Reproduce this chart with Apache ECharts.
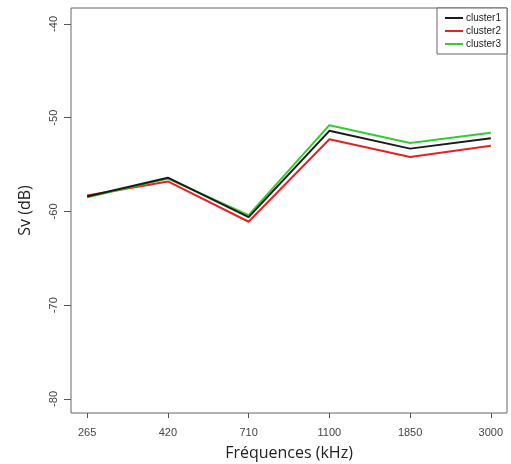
<!DOCTYPE html>
<html><head><meta charset="utf-8">
<script src="https://cdn.jsdelivr.net/npm/echarts@6/dist/echarts.min.js"></script>
<style>html,body{margin:0;padding:0;background:#fff}#c{width:511px;height:464px}</style>
</head><body><div id="c"></div>
<script>
const categories = ['265','420','710','1100','1850','3000'];
const cluster1 = [-58.4, -56.4, -60.6, -51.4, -53.3, -52.2];
const cluster2 = [-58.3, -56.8, -61.1, -52.3, -54.2, -53.0];
const cluster3 = [-58.5, -56.5, -60.4, -50.8, -52.7, -51.6];
const yTicks = [-80, -70, -60, -50, -40];
const xPos = categories.map((c, i) => i + 1);

const chart = echarts.init(document.getElementById('c'));
const mk = (name, data, color) => ({
  name, type: 'line', data: data.map((v, i) => [xPos[i], v]),
  showSymbol: false, symbol: 'none', lineStyle: { color, width: 2 }, itemStyle: { color },
  z: name === 'cluster1' ? 3 : 2
});
chart.setOption({
  animation: false,
  grid: { left: 71, right: 4, top: 8, bottom: 51, show: true, borderColor: '#666', borderWidth: 1,
    backgroundColor: 'transparent', containLabel: false, outerBoundsMode: 'none' },
  legend: {
    right: 4, top: 8, orient: 'vertical', itemWidth: 18, itemHeight: 8, itemGap: 3,
    padding: [5, 6, 5, 8], borderColor: '#666', borderWidth: 1, borderRadius: 0, backgroundColor: '#fff',
    textStyle: { fontFamily: 'Liberation Sans', fontSize: 10, color: '#222', padding: [0, 0, 0, -2] },
    icon: 'path://M0,0 L18,0 L18,2 L0,2 Z',
    data: ['cluster1', 'cluster2', 'cluster3']
  },
  xAxis: {
    type: 'value', min: 0.8, max: 6.2,
    name: 'Fréquences (kHz)', nameLocation: 'middle', nameGap: 32,
    nameTextStyle: { fontFamily: 'Open Sans', fontSize: 16, color: '#222' },
    axisLine: { show: false },
    axisTick: { show: true, length: 5, customValues: xPos, lineStyle: { color: '#555' } },
    axisLabel: { customValues: xPos, margin: 14, fontFamily: 'Liberation Sans', fontSize: 11, color: '#444',
      formatter: v => categories[Math.round(v) - 1] },
    splitLine: { show: false }
  },
  yAxis: {
    type: 'value', min: -81.5, max: -38.3,
    name: 'Sv (dB)', nameLocation: 'middle', nameGap: 38, nameRotate: 90,
    nameTextStyle: { fontFamily: 'Open Sans', fontSize: 16, color: '#222' },
    axisLine: { show: false },
    axisTick: { show: true, length: 7, customValues: yTicks, lineStyle: { color: '#555' } },
    axisLabel: { customValues: yTicks, rotate: 90, margin: 12, fontFamily: 'Liberation Sans', fontSize: 11, color: '#444' },
    splitLine: { show: false }
  },
  series: [mk('cluster1', cluster1, '#1a1a1a'), mk('cluster2', cluster2, '#e52222'), mk('cluster3', cluster3, '#33cc33')]
});
</script></body></html>
